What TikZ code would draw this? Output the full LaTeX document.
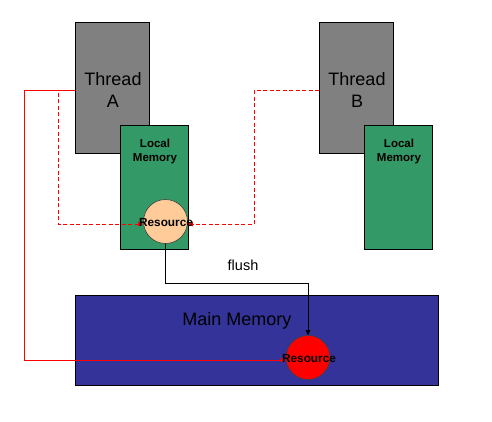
\documentclass[tikz,border=0pt]{standalone}
\usepackage{fontspec}
\setmainfont{Liberation Sans}
\usetikzlibrary{arrows.meta}
\definecolor{thgray}{HTML}{808080}
\definecolor{lmgreen}{HTML}{339966}
\definecolor{mmblue}{HTML}{333399}
\definecolor{peach}{HTML}{FFCC99}
\begin{document}
\begin{tikzpicture}[x=1pt,y=-1pt,
  box/.style={draw=black, line width=0.8pt, rectangle, inner sep=0pt},
  thread/.style={box, fill=thgray, minimum width=74pt, minimum height=131pt},
  local/.style={box, fill=lmgreen, minimum width=68pt, minimum height=124pt},
  res/.style={circle, draw=black!75, line width=0.6pt, minimum size=44pt, inner sep=0pt},
  restext/.style={font=\bfseries\fontsize{11.8}{12}\selectfont, inner sep=0pt},
  big/.style={font=\fontsize{18}{22}\selectfont, align=center, inner sep=0pt},
  small/.style={font=\bfseries\fontsize{11.5}{14}\selectfont, align=center, inner sep=0pt},
  arr/.style={-{Triangle[length=5pt,width=4.5pt]}},
  redline/.style={draw=red, line width=0.9pt},
  reddash/.style={draw=red, line width=0.8pt, dash pattern=on 4pt off 2.5pt}]
\useasboundingbox (0,0) rectangle (492,421);
% boxes
\node[thread] (thA) at (112,87.5) {};
\node[thread] (thB) at (356,87.5) {};
\node[local] (lmA) at (154,187) {};
\node[local] (lmB) at (398.5,187) {};
\node[box, fill=mmblue, minimum width=363pt, minimum height=90pt] (mm) at (256.5,340) {};
% texts
\node[big] (tA) at (113,90) {Thread\\A};
\node[big] (tB) at (357,90) {Thread\\B};
\node[small] (lA) at (155,152) {Local\\Memory};
\node[small] (lB) at (399,152) {Local\\Memory};
\node[big] (mmt) at (237,321) {Main Memory};
\node[font=\fontsize{14.5}{16}\selectfont, inner sep=0pt] (fl) at (243,265) {flush};
% resources
\node[res, fill=peach] (resA) at (165.5,221.5) {};
\node[res, fill=red] (resM) at (308,357.5) {};
% connector waypoints
\coordinate (sA) at (75,90);
\coordinate (s1) at (24,90);
\coordinate (s2) at (24,360);
\coordinate (d1) at (58,90);
\coordinate (d2) at (58,224);
\coordinate (sB) at (319,90);
\coordinate (b1) at (254,90);
\coordinate (b2) at (254,224);
\coordinate (f1) at (165.5,283);
% connectors
\draw[reddash, arr] (sA) -- (d1) -- (d2) -- (d2 -| resA.west);
\draw[reddash, arr] (sB) -- (b1) -- (b2) -- (b2 -| resA.east);
\draw[redline, arr] (sA) -- (s1) -- (s2) -- (s2 -| resM.west);
\draw[line width=0.8pt, arr] (resA.south) -- (f1) -| (resM.north);
% resource labels above arrows
\node[restext] (rAt) at (166,222) {Resource};
\node[restext] (rMt) at (309,358) {Resource};
\end{tikzpicture}
\end{document}
